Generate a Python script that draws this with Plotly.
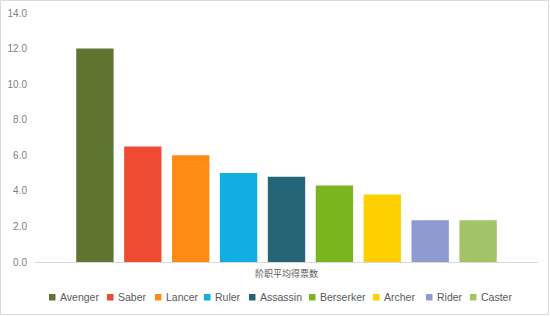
import plotly.graph_objects as go

category = ["阶职平均得票数"]
classes = ["Avenger", "Saber", "Lancer", "Ruler", "Assassin", "Berserker", "Archer", "Rider", "Caster"]
values = [12.0, 6.5, 6.0, 5.0, 4.8, 4.3, 3.8, 2.35, 2.35]
colors = ["#5E7530", "#EF4B33", "#FF8A14", "#12AEE3", "#246678", "#79B51C", "#FFD000", "#8E9BD0", "#A3C466"]
y_ticks = [0, 2, 4, 6, 8, 10, 12, 14]

W, H = 550, 316
L, R, T, B = 35, 12, 13, 54
pw, ph = W - L - R, H - T - B

fig = go.Figure()
for name, v, c in zip(classes, values, colors):
    fig.add_trace(go.Bar(x=category, y=[v], name=name, marker=dict(color=c, line=dict(width=0)),
                         showlegend=False))

def px2x(px):
    return (px - L) / pw

def px2y(py):
    return (H - B - py) / ph

shapes = []
annotations = []
# outer chart border
shapes.append(dict(type="rect", xref="paper", yref="paper",
                   x0=px2x(0.5), x1=px2x(W - 1.5), y0=px2y(H - 1.5), y1=px2y(0.5),
                   line=dict(color="#D9D9D9", width=1), fillcolor="rgba(0,0,0,0)", layer="below"))
# custom legend
legend_x = [49, 107, 155, 204, 249, 309, 373, 426, 470]
ly = 297
for name, c, x in zip(classes, colors, legend_x):
    shapes.append(dict(type="rect", xref="paper", yref="paper",
                       x0=px2x(x), x1=px2x(x + 6.5), y0=px2y(ly + 3.5), y1=px2y(ly - 3),
                       line=dict(width=0), fillcolor=c))
    annotations.append(dict(xref="paper", yref="paper", x=px2x(x + 8.5), y=px2y(ly),
                            text=name, showarrow=False, xanchor="left", yanchor="middle",
                            font=dict(family="Liberation Sans", size=10.5, color="#595959")))

fig.update_layout(
    width=W, height=H,
    margin=dict(l=L, r=R, t=T, b=B),
    paper_bgcolor="white", plot_bgcolor="white",
    barmode="group", bargap=0.143, bargroupgap=0.22,
    showlegend=False,
    shapes=shapes, annotations=annotations,
    xaxis=dict(showline=True, linecolor="#D9D9D9", linewidth=1, ticks="", showgrid=False,
               automargin=False, ticklabelstandoff=3,
               tickfont=dict(family="Noto Sans CJK SC", size=9, color="#595959")),
    yaxis=dict(range=[0, 14], tickvals=y_ticks, tickformat=".1f", showgrid=False, zeroline=False,
               showline=False, ticks="", ticklabelstandoff=7, automargin=False,
               tickfont=dict(family="Liberation Sans", size=10, color="#7F7F7F")),
)

fig.write_html("out.html")
